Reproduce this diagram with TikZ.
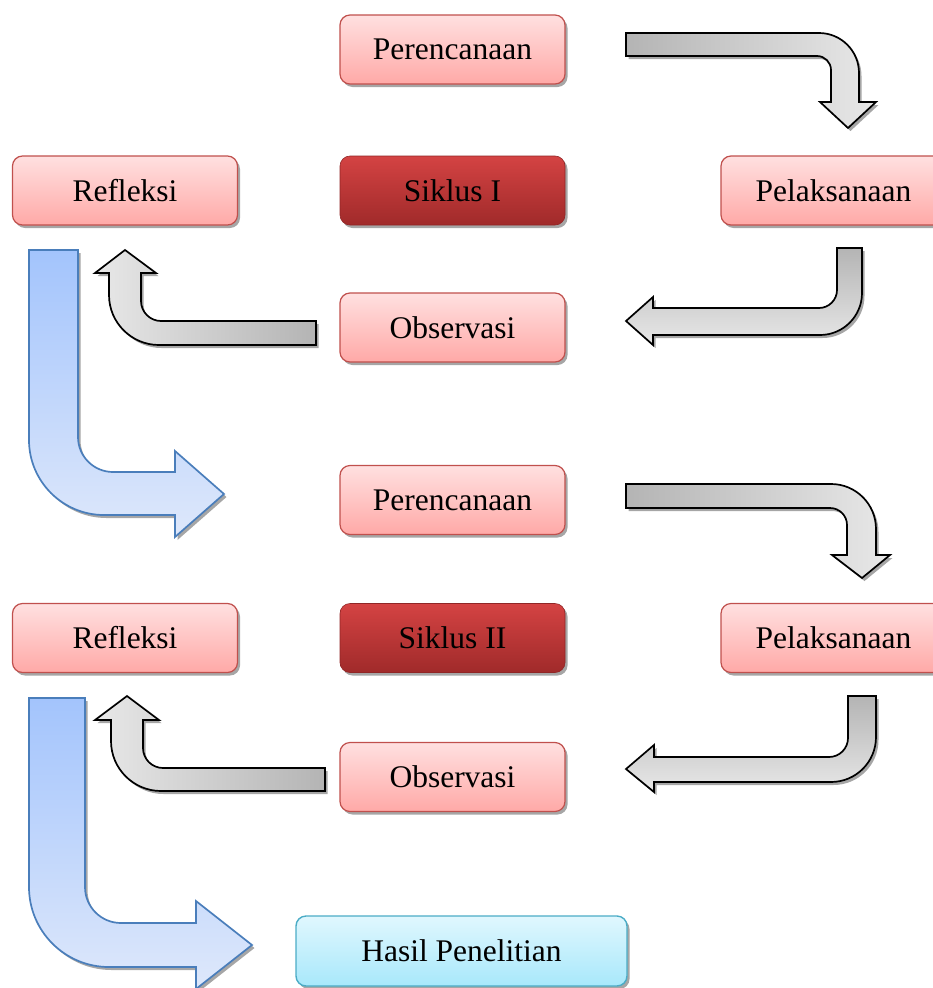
\documentclass[tikz,border=0pt]{standalone}
\usepackage{fontspec}
\setmainfont{Liberation Serif}
\usetikzlibrary{shadows}
\definecolor{redtop}{HTML}{FFE0E0}
\definecolor{redbot}{HTML}{FFA9A7}
\definecolor{redline}{HTML}{C0504D}
\definecolor{siktop}{HTML}{D44343}
\definecolor{sikbot}{HTML}{A02A2A}
\definecolor{cyantop}{HTML}{E0F7FE}
\definecolor{cyanbot}{HTML}{A8E8FB}
\definecolor{cyanline}{HTML}{4BACC6}
\definecolor{graydark}{HTML}{B4B4B4}
\definecolor{graylight}{HTML}{E8E8E8}
\definecolor{bluetop}{HTML}{A3C4FC}
\definecolor{bluebot}{HTML}{DEE8FB}
\definecolor{blueline}{HTML}{4A7EBB}
\tikzset{
  shad/.style={drop shadow={shadow xshift=2.5pt, shadow yshift=-3pt, fill=black, opacity=0.35}},
  box/.style={rounded corners=10pt, minimum width=225pt, minimum height=69pt, inner sep=0pt,
    font=\fontsize{31.5}{37}\selectfont, shad},
  redbox/.style={box, draw=redline, line width=1.2pt, top color=redtop, bottom color=redbot},
  sikbox/.style={box, draw=sikbot!90!black, line width=0.6pt, top color=siktop, bottom color=sikbot},
  cyanbox/.style={box, draw=cyanline, line width=1.4pt, top color=cyantop, bottom color=cyanbot},
  grayarrow/.style={draw=black, line width=1.7pt, line join=miter, shad},
  bluearrow/.style={draw=blueline, line width=1.7pt, line join=miter, top color=bluetop, bottom color=bluebot, shad}
}
\begin{document}
\begin{tikzpicture}[x=1pt,y=-1pt]
\useasboundingbox (0,0) rectangle (933,988);
\clip (0,0) rectangle (933,988);

% ---------- Siklus I ----------
\node[redbox] (per1) at (452.5,49.5) {Perencanaan};
\node[redbox] (ref1) at (125,190.5) {Refleksi};
\node[sikbox] (sik1) at (452.5,190.5) {Siklus I};
\node[redbox] (pel1) at (833.5,190.5) {Pelaksanaan};
\node[redbox] (obs1) at (452.5,327.5) {Observasi};

% Perencanaan -> Pelaksanaan
\path[grayarrow, left color=graydark, right color=graylight]
  (626,33) -- (819,33) .. controls (841.1,33) and (859,50.9) .. (859,73)
  -- (859,102) -- (876,102) -- (848,128) -- (820,102) -- (831,102) -- (831,70)
  .. controls (831,62.3) and (824.7,56) .. (817,56) -- (626,56) -- cycle;

% Pelaksanaan -> Observasi
\path[grayarrow, top color=graydark, bottom color=graylight]
  (837,248) -- (862,248) -- (862,293) .. controls (862,316.2) and (843.2,335) .. (820,335)
  -- (653,335) -- (653,345) -- (626,321) -- (653,297) -- (653,308) -- (819,308)
  .. controls (828.9,308) and (837,299.9) .. (837,290) -- cycle;

% Observasi -> Refleksi
\path[grayarrow, left color=graylight, right color=graydark]
  (316,321) -- (316,345) -- (159,345) .. controls (131.4,345) and (109,322.6) .. (109,295)
  -- (109,273) -- (95,273) -- (125,250) -- (156,273) -- (141,273) -- (141,301)
  .. controls (141,312) and (150,321) .. (161,321) -- cycle;

% Refleksi -> Perencanaan (Siklus II)
\path[bluearrow]
  (29,250) -- (78,250) -- (78,437) .. controls (78,456.3) and (93.7,472) .. (113,472)
  -- (175,472) -- (175,451) -- (224,494) -- (175,537) -- (175,515) -- (104,515)
  .. controls (62.6,515) and (29,481.4) .. (29,440) -- cycle;

% ---------- Siklus II ----------
\node[redbox] (per2) at (452.5,500) {Perencanaan};
\node[redbox] (ref2) at (125,638) {Refleksi};
\node[sikbox] (sik2) at (452.5,638) {Siklus II};
\node[redbox] (pel2) at (833.5,638) {Pelaksanaan};
\node[redbox] (obs2) at (452.5,777) {Observasi};
\node[cyanbox, minimum width=331pt, minimum height=70pt] (hasil) at (461.5,951) {Hasil Penelitian};

% Perencanaan -> Pelaksanaan
\path[grayarrow, left color=graydark, right color=graylight]
  (626,484) -- (831,484) .. controls (855.9,484) and (876,504.1) .. (876,529)
  -- (876,555) -- (890,555) -- (862,578) -- (832,555) -- (847,555) -- (847,525)
  .. controls (847,515.6) and (839.4,508) .. (830,508) -- (626,508) -- cycle;

% Pelaksanaan -> Observasi
\path[grayarrow, top color=graydark, bottom color=graylight]
  (848,696) -- (876,696) -- (876,737) .. controls (876,761.9) and (855.9,782) .. (831,782)
  -- (654,782) -- (654,792) -- (626,769) -- (654,745) -- (654,757) -- (829,757)
  .. controls (839.5,757) and (848,748.5) .. (848,738) -- cycle;

% Observasi -> Refleksi
\path[grayarrow, left color=graylight, right color=graydark]
  (325,768) -- (325,791) -- (161,791) .. controls (133.4,791) and (111,768.6) .. (111,741)
  -- (111,720) -- (95,720) -- (127,696) -- (159,720) -- (143,720) -- (143,748)
  .. controls (143,759) and (152,768) .. (163,768) -- cycle;

% Refleksi -> Hasil Penelitian
\path[bluearrow]
  (29,698) -- (85,698) -- (85,887) .. controls (85,906.9) and (101.1,923) .. (121,923)
  -- (196,923) -- (196,901) -- (252,945) -- (196,989) -- (196,967) -- (109,967)
  .. controls (64.8,967) and (29,931.2) .. (29,887) -- cycle;
\end{tikzpicture}
\end{document}
